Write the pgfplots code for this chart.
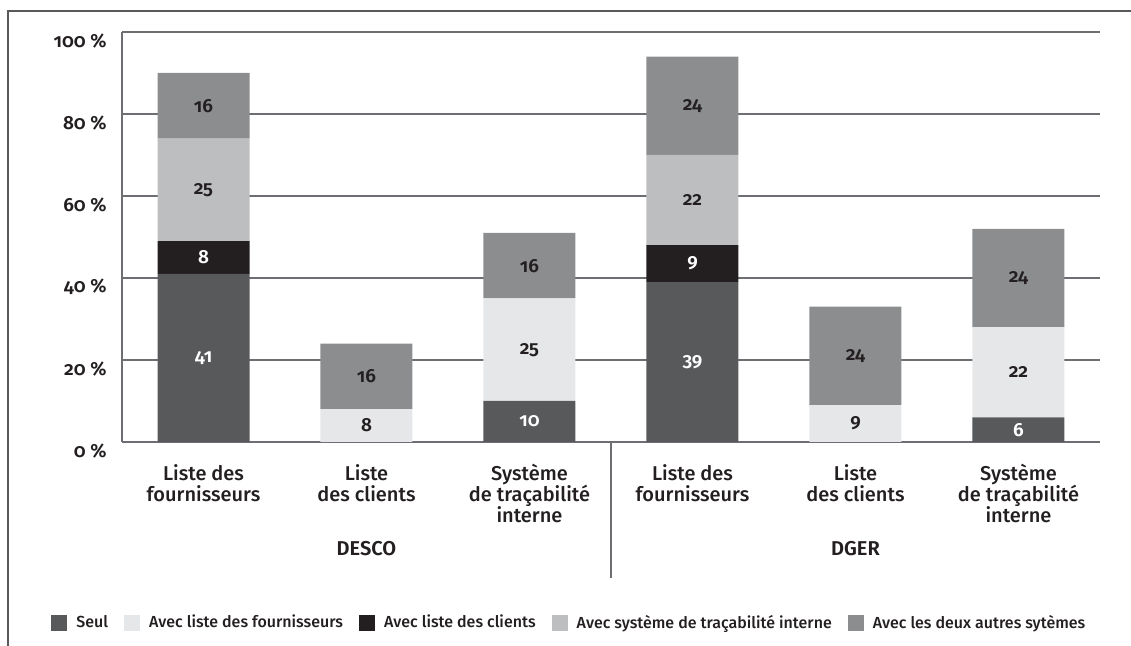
\documentclass[border=0pt]{standalone}
\usepackage{fontspec}
\setmainfont{Fira Sans}[UprightFont=* Medium, BoldFont=* SemiBold, Numbers=OldStyle]
\usepackage{pgfplots}
\pgfplotsset{compat=1.18}

\definecolor{cSeul}{HTML}{58595B}
\definecolor{cFour}{HTML}{E6E7E8}
\definecolor{cCli}{HTML}{231F20}
\definecolor{cSys}{HTML}{BCBEC0}
\definecolor{cDeux}{HTML}{8C8D8F}
\definecolor{cGrid}{HTML}{6D6E71}
\definecolor{cText}{HTML}{231F20}

\pgfplotsset{
  base/.style={
    scale only axis, width=489pt, height=205pt,
    at={(61pt,102pt)}, anchor=south west,
    xmin=-0.5, xmax=5.5, ymin=0, ymax=100,
    clip=false,
  },
}

\begin{document}
\begin{tikzpicture}
\path[use as bounding box] (0,0) rectangle (565.5pt,323pt);
\draw[cSeul, line width=0.75pt] (4pt,0) -- (4pt,317.5pt) -- (565.5pt,317.5pt);

\begin{axis}[base,
  ybar stacked, bar width=46pt,
  axis lines=left, axis line style={-, draw=cGrid, line width=0.6pt},
  ymajorgrids, grid style={draw=cGrid, line width=0.6pt},
  major tick length=0pt,
  ytick={0,20,...,100},
  yticklabels={0~\%,20~\%,40~\%,60~\%,80~\%,100~\%},
  yticklabel style={font=\bfseries\fontsize{9.5}{11}\selectfont, text=cText,
    anchor=east, inner sep=0pt, xshift=-7.5pt, yshift=-4.5pt},
  xtick={0,...,5},
  xticklabels={{Liste des\\fournisseurs},{Liste\\des clients},{Système\\de traçabilité\\interne},
    {Liste des\\fournisseurs},{Liste\\des clients},{Système\\de traçabilité\\interne}},
  xticklabel style={font=\fontsize{10}{10.5}\selectfont, align=center, text=cText,
    anchor=north, inner sep=0pt, yshift=-11pt},
  legend columns=5,
  legend image code/.code={\fill[#1] (0pt,-4pt) rectangle (8pt,4pt); \path (10.5pt,0pt);},
  legend style={draw=none, fill=none, at={(-0.0726,-0.4415)}, anchor=west,
    font=\fontsize{8}{10}\selectfont, text=cText, inner sep=0pt,
    /tikz/every even column/.append style={column sep=6pt}},
]
\addplot[fill=cSeul, draw=none] coordinates {(0,41) (1,0) (2,10) (3,39) (4,0) (5,6)};
\addplot[fill=cFour, draw=none] coordinates {(0,0) (1,8) (2,25) (3,0) (4,9) (5,22)};
\addplot[fill=cCli, draw=none] coordinates {(0,8) (1,0) (2,0) (3,9) (4,0) (5,0)};
\addplot[fill=cSys, draw=none] coordinates {(0,25) (1,0) (2,0) (3,22) (4,0) (5,0)};
\addplot[fill=cDeux, draw=none] coordinates {(0,16) (1,16) (2,16) (3,24) (4,24) (5,24)};
\legend{Seul, Avec liste des fournisseurs, Avec liste des clients,
  Avec système de traçabilité interne, Avec les deux autres sytèmes}

\draw[cGrid, line width=0.75pt] (axis cs:2.5,0) -- (axis cs:2.5,-33.2);
\node[font=\bfseries\fontsize{10}{12}\selectfont, text=cText] at (axis cs:1,-25.9) {DESCO};
\node[font=\bfseries\fontsize{10}{12}\selectfont, text=cText] at (axis cs:4,-25.9) {DGER};
\end{axis}

\begin{axis}[base, hide axis,
  nodes near coords, point meta=explicit symbolic,
  every node near coord/.append style={anchor=center, font=\bfseries\fontsize{9.5}{11}\selectfont},
]
\addplot[draw=none, mark=none, nodes near coords,
  every node near coord/.append style={text=white}]
  coordinates {(0,20.5)[41] (0,45)[8] (2,5)[10] (3,19.5)[39] (3,43.5)[9] (5,3)[6]};
\addplot[draw=none, mark=none, nodes near coords,
  every node near coord/.append style={text=cText}]
  coordinates {(0,61.5)[25] (0,82)[16] (1,4)[8] (1,16)[16] (2,22.5)[25] (2,43)[16]
    (3,59)[22] (3,82)[24] (4,4.5)[9] (4,21)[24] (5,17)[22] (5,40)[24]};
\end{axis}
\end{tikzpicture}
\end{document}
